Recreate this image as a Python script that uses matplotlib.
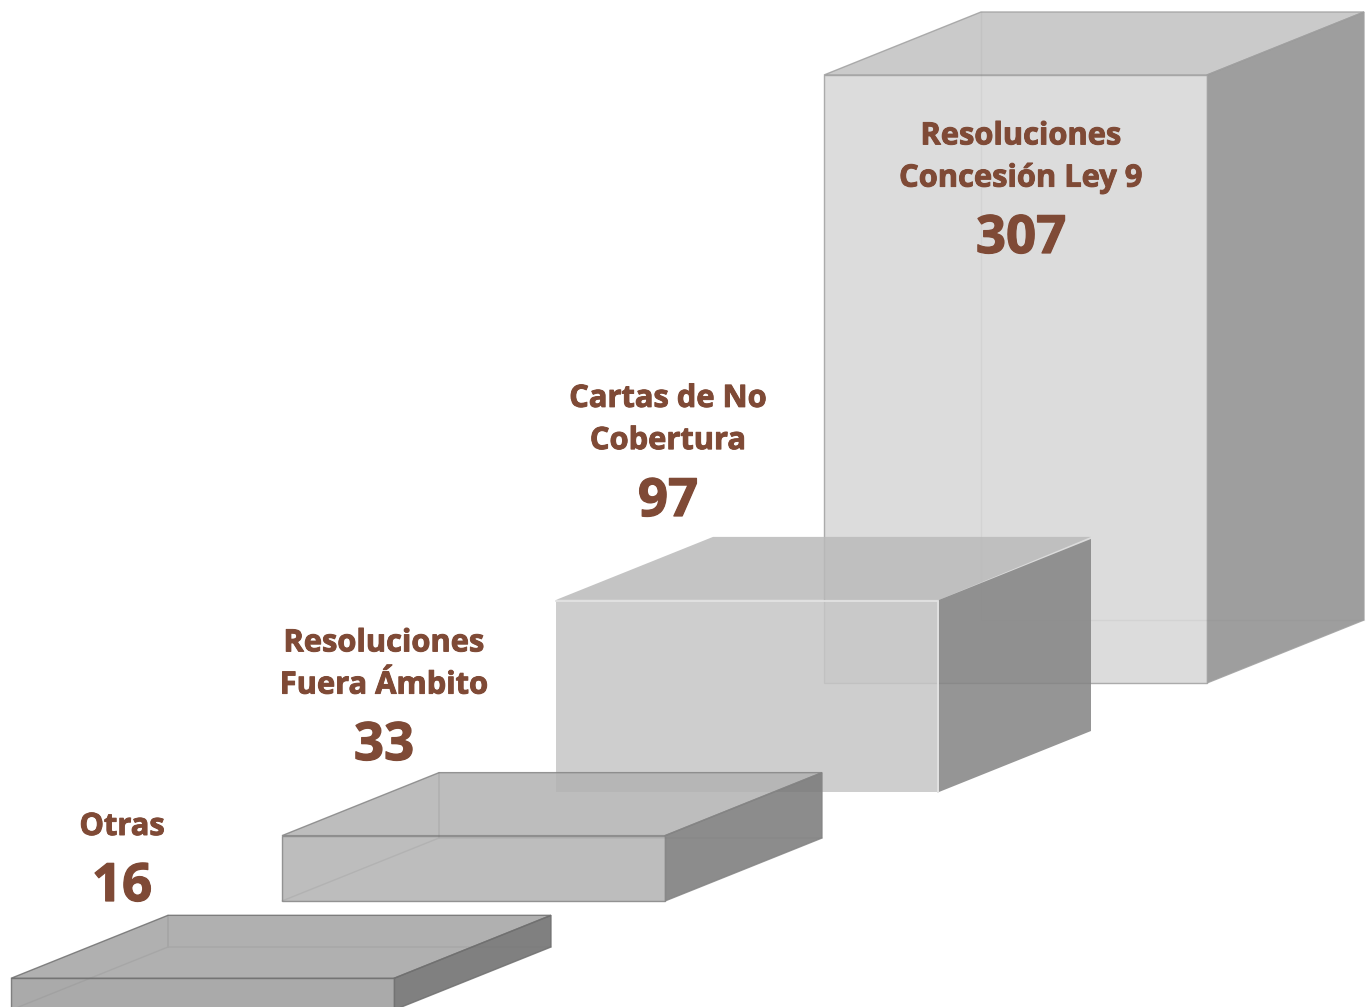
""" stepped 3D boxes with labels """

import matplotlib
matplotlib.use("Agg")
import matplotlib.pyplot as plt
import matplotlib.patheffects as pe
from matplotlib.patches import Polygon

labels = ["Otras", "Resoluciones\nFuera Ámbito", "Cartas de No\nCobertura", "Resoluciones\nConcesión Ley 9"]
values = [16, 33, 97, 307]

# layout of the boxes, in pixels of the picture
left_px = [11, 282, 556, 824]
base_px = [1010, 901, 792, 683]
label_x = [122, 384, 668, 1021]
name_y = [827, 664.5, 420, 157.5]
num_y = [887, 746, 502, 239]
px_per_unit = 608 / 307
box_w = 383
dx, dy = 157, -63
right_dx = [157, 157, 152, 157]  # the 97 box is a bit shallower on its right side

front_col = ["#9b9b9b", "#b2b2b2", "#c6c6c6", "#d6d6d6"]
top_col = ["#a2a2a2", "#b2b2b2", "#bababa", "#c1c1c1"]
side_col = ["#6a6a6a", "#787878", "#838383", "#8d8d8d"]
edge_col = ["#707070", "#858585", "none", "#a0a0a0"]
text_col = "#7f4a36"

plt.rcParams["font.family"] = ["Open Sans", "DejaVu Sans"]

fig = plt.figure(figsize=(13.72, 10.07), dpi=100)
ax = fig.add_axes([0, 0, 1, 1])
ax.set_xlim(0, 1372)
ax.set_ylim(1007, 0)
ax.axis("off")


def face(points, color, edge, z):
    ax.add_patch(Polygon(points, closed=True, facecolor=color, edgecolor=edge,
                         alpha=0.85, linewidth=1, zorder=z))


# tallest box goes first, the smaller ones sit in front of it
for i in range(3, -1, -1):
    x0 = left_px[i]
    x1 = x0 + box_w
    yb = base_px[i]
    yt = yb - values[i] * px_per_unit
    z = 10 - i
    rdx = right_dx[i]
    rdy = dy * rdx / dx
    face([(x0, yt), (x0 + dx, yt + dy), (x1 + rdx, yt + dy), (x1, yt)], top_col[i], edge_col[i], z)
    face([(x1, yt), (x1 + rdx, yt + rdy), (x1 + rdx, yb + rdy), (x1, yb)], side_col[i], edge_col[i], z)
    face([(x0, yt), (x1, yt), (x1, yb), (x0, yb)], front_col[i], edge_col[i], z)
    if i == 2:
        # soft highlight along the bevel of this box
        ax.plot([x0, x1 - 1, x1 - 1], [yt + 1, yt + 1, yb], color="#e2e2e2", lw=1.3, zorder=z + 0.5)
    elif i == 3:
        # only the back edges show faintly on the tall one
        ax.plot([x0 + dx, x0 + dx, x1 + dx], [yt + dy, yb + dy, yb + dy], color="#707070",
                lw=1, alpha=0.08, zorder=z + 0.5)
    else:
        # faint hidden edges seen through the box
        hx = [x0, x0 + dx, x0 + dx, x0 + dx, x1 + dx]
        hy = [yb, yb + dy, yt + dy, yb + dy, yb + dy]
        ax.plot(hx, hy, color="#707070", lw=1, alpha=0.14, zorder=z + 0.5)

for i in range(4):
    ax.text(label_x[i], name_y[i], labels[i], color=text_col, fontsize=22.2, fontweight="bold",
            ha="center", va="center", linespacing=1.53, zorder=20,
            path_effects=[pe.withStroke(linewidth=0.7, foreground=text_col)])
    ax.text(label_x[i], num_y[i], str(values[i]), color=text_col, fontsize=38, fontweight="bold",
            ha="center", va="center", zorder=20,
            path_effects=[pe.withStroke(linewidth=0.9, foreground=text_col)])

fig.savefig("out.png", dpi=100)
